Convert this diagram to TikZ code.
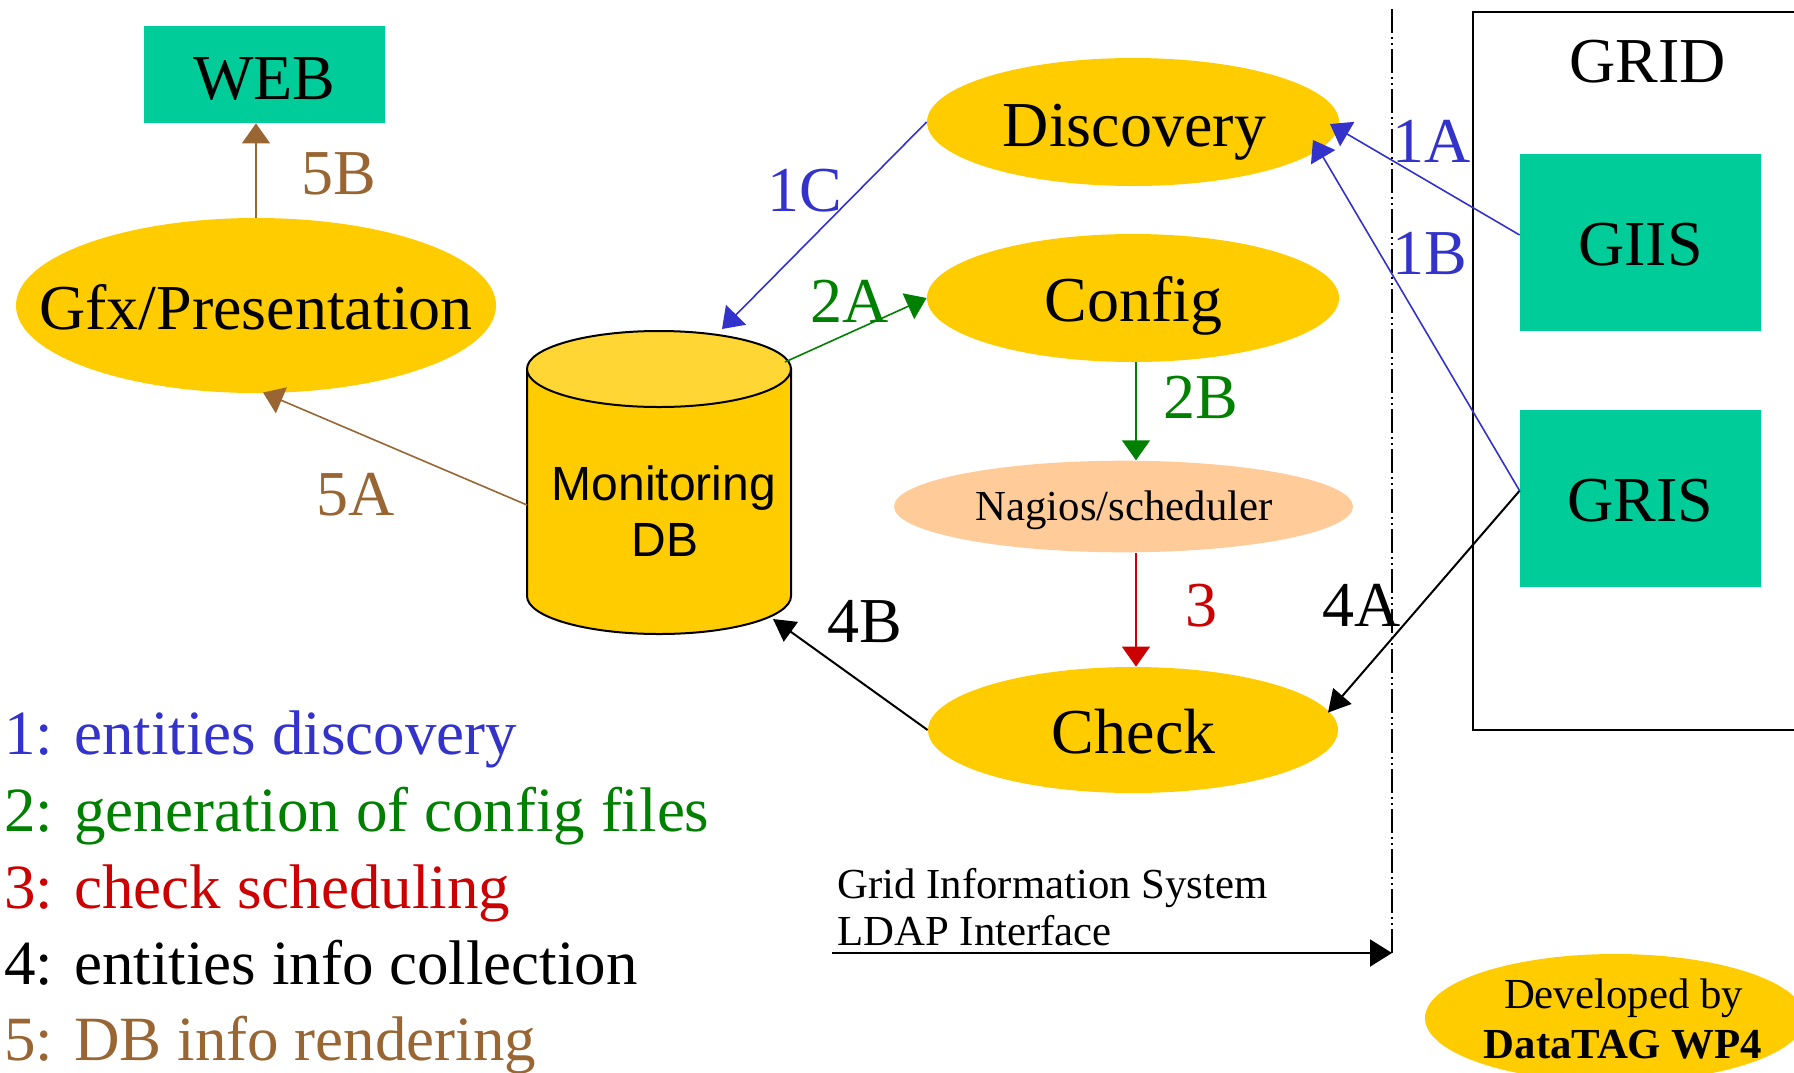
\documentclass[tikz,border=0pt]{standalone}
\usepackage{fontspec}
\setmainfont{Liberation Serif}
\newfontfamily\arialf{Liberation Sans}
\usetikzlibrary{shapes.geometric,arrows.meta}
\definecolor{ylw}{HTML}{FFCC00}
\definecolor{ylwtop}{HTML}{FFD633}
\definecolor{tealbox}{HTML}{00CC99}
\definecolor{peach}{HTML}{FFCC99}
\definecolor{blu}{HTML}{3333CC}
\definecolor{grn}{HTML}{008000}
\definecolor{rd}{HTML}{CC0000}
\definecolor{brn}{HTML}{996633}
\begin{document}
\begin{tikzpicture}[x=0.5pt,y=-0.5pt,
  big/.style={font=\fontsize{32}{38}\selectfont, inner sep=0, anchor=base},
  bigl/.style={font=\fontsize{32}{38}\selectfont, inner sep=0, anchor=base west},
  legend/.style={font=\fontsize{31.5}{38}\selectfont, inner sep=0, anchor=base west},
  mid/.style={font=\fontsize{21.4}{26}\selectfont, inner sep=0, anchor=base},
  ell/.style={ellipse, fill=ylw, inner sep=0},
  tbox/.style={rectangle, fill=tealbox, inner sep=0},
  thinarr/.style={line width=0.8pt, -{Triangle[length=10pt,width=14pt]}},
  blkarr/.style={line width=1pt, -{Triangle[length=11pt,width=12pt]}},
]
\useasboundingbox (0,0) rectangle (1794,1072);
\fill[white] (0,0) rectangle (1794,1072);

% GRID box
\node[draw, line width=1pt, inner sep=0, anchor=north west, minimum width=165pt, minimum height=359pt] (grid) at (1472,11) {};
\node[big] (gridT) at (1647.5,82) {GRID};
\node[tbox, minimum width=120.5pt, minimum height=88.5pt] (giis) at (1640.5,242.5) {};
\node[big] (giisT) at (1640.5,265) {GIIS};
\node[tbox, minimum width=120.5pt, minimum height=88.25pt] (gris) at (1640.5,498.25) {};
\node[big] (grisT) at (1640.5,521.5) {GRIS};

% dash-dot separator
\draw[line width=1pt, dash pattern=on 12pt off 2pt on 1pt off 2pt on 1pt off 2pt] (1392,9) -- (1392,955);

% WEB and Gfx
\node[tbox, minimum width=120.5pt, minimum height=48.5pt] (web) at (264.5,74.5) {};
\node[big] (webT) at (264.5,99.5) {WEB};
\node[ell, minimum width=240pt, minimum height=87.5pt] (gfx) at (256,305.5) {};
\node[big] (gfxT) at (256,329.5) {Gfx/Presentation};

% ellipses
\node[ell, minimum width=206pt, minimum height=64pt] (disc) at (1133,122) {};
\node[big] (discT) at (1134.5,146.5) {Discovery};
\node[ell, minimum width=206pt, minimum height=64pt] (conf) at (1133,298) {};
\node[big] (confT) at (1133.5,321.7) {Config};
\node[ellipse, fill=peach, inner sep=0, minimum width=229.5pt, minimum height=45.8pt] (nag) at (1123.5,506.5) {};
\node[mid] (nagT) at (1124,520) {Nagios/scheduler};
\node[ell, minimum width=205pt, minimum height=63pt] (chk) at (1133,730) {};
\node[big] (chkT) at (1133.7,753) {Check};

% Monitoring DB cylinder
\filldraw[fill=ylw, draw=black, line width=1pt] (527,369) -- (527,596) arc[start angle=180, end angle=360, x radius=66pt, y radius=19pt] -- (791,369) -- cycle;
\filldraw[fill=ylwtop, draw=black, line width=1pt] (659,369) ellipse[x radius=66pt, y radius=19pt];
\node[inner sep=0, minimum width=132pt, minimum height=150.5pt] (db) at (659,482.5) {};
\node[font=\arialf\fontsize{24}{28}\selectfont, inner sep=0, anchor=base] (dbT1) at (664,500) {Monitoring};
\node[font=\arialf\fontsize{24}{28}\selectfont, inner sep=0, anchor=base] (dbT2) at (665,556.5) {DB};

% Developed by
\node[ell, minimum width=190pt, minimum height=64pt] (dev) at (1615,1018) {};
\node[mid] (devT1) at (1623.5,1008) {Developed by};
\node[mid, font=\fontsize{21.4}{26}\selectfont\bfseries] (devT2) at (1623,1058) {DataTAG WP4};

% LDAP interface
\coordinate (ls) at (832,953);
\coordinate (le) at (1392,953);
\draw[line width=1pt, -{Triangle[length=11pt,width=13.5pt]}] (ls) -- (le);
\node[mid, anchor=base west] (ldap1) at (837,898) {Grid Information System};
\node[mid, anchor=base west] (ldap2) at (837,945) {LDAP Interface};

% connectors
\draw[thinarr, brn] (gfx.north) -- (gfx.north |- web.south);
\draw[thinarr, brn] ([shift={(-132,22.5)}]db.center) -- ([shift={(7,87)}]gfx.center);
\draw[thinarr, blu] (disc.west) -- ([shift={(63,-153.5)}]db.center);
\draw[thinarr, grn] ([shift={(126,-120.5)}]db.center) -- (conf.west);
\draw[thinarr, grn] ([shift={(3,0)}]conf.south) -- ([shift={(3,0)}]conf.south |- nag.north);
\draw[thinarr, rd] ([shift={(12.5,0)}]nag.south) -- ([shift={(3,0)}]chk.north);
\draw[blkarr] (chk.west) -- ([shift={(114,136.5)}]db.center);
\draw[blkarr] ([shift={(0,-7.5)}]gris.west) -- ([shift={(195,-17.4)}]chk.center);
\draw[thinarr, blu] ([shift={(0,-7.5)}]giis.west) -- ([shift={(197,2)}]disc.center);
\draw[thinarr, blu] ([shift={(0,-7.5)}]gris.west) -- ([shift={(180,18)}]disc.center);

% labels
\node[bigl, brn] (l5b) at (301,194.5) {5B};
\node[bigl, brn] (l5a) at (316,515) {5A};
\node[bigl, blu] (l1c) at (767,211) {1C};
\node[bigl, grn] (l2a) at (810,322) {2A};
\node[bigl, grn] (l2b) at (1163,418.5) {2B};
\node[bigl, rd] (l3) at (1185.5,626) {3};
\node[bigl] (l4b) at (827,642) {4B};
\node[bigl] (l4a) at (1322,626) {4A};
\node[bigl, blu] (l1a) at (1392,162) {1A};
\node[bigl, blu] (l1b) at (1392,274) {1B};

% legend
\node[legend, blu] (lg1) at (4,754) {1: entities discovery};
\node[legend, grn] (lg2) at (4,831) {2: generation of config files};
\node[legend, rd] (lg3) at (4,908) {3: check scheduling};
\node[legend] (lg4) at (4,984) {4: entities info collection};
\node[legend, brn] (lg5) at (4,1060) {5: DB info rendering};
\end{tikzpicture}
\end{document}
